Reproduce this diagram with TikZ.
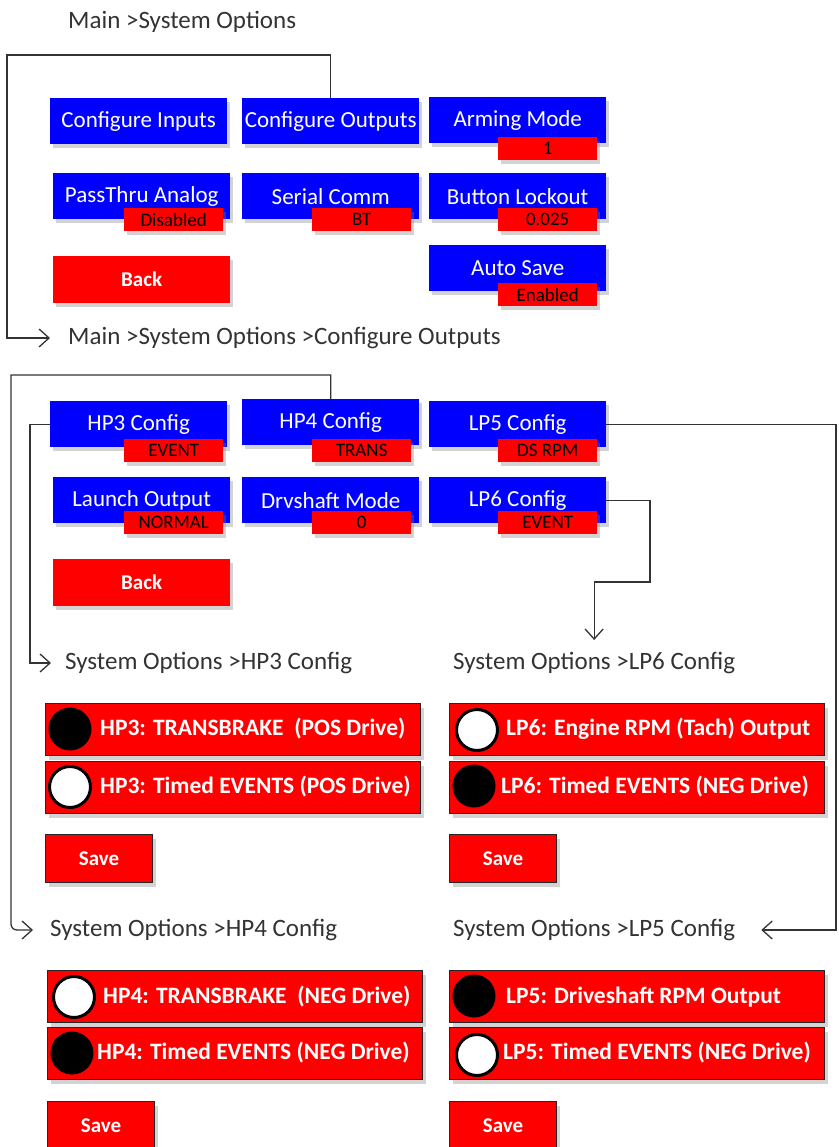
\documentclass[tikz,border=0pt]{standalone}
\usepackage{fontspec}
\setmainfont{Carlito}
\usetikzlibrary{shadows,arrows.meta}
\begin{document}
\begin{tikzpicture}[x=1pt,y=-1pt,
 shd/.style={drop shadow={opacity=0.35,shadow xshift=3pt,shadow yshift=-4pt}},
 bluebox/.style={shd, fill=blue, text=white, anchor=north west, minimum width=177pt, minimum height=46pt, inner sep=1pt, font=\fontsize{23}{25}\selectfont},
 valbox/.style={shd, fill=red, text=black, anchor=north west, minimum width=99pt, minimum height=23pt, inner sep=0pt, font=\fontsize{19}{20}\selectfont},
 backbox/.style={shd, fill=red, text=white, anchor=north west, minimum width=177pt, minimum height=47pt, font=\bfseries\fontsize{21}{24}\selectfont},
 rowbox/.style={shd, fill=red, draw=black!85, line width=1.2pt, anchor=north west, minimum width=375pt, minimum height=52pt, inner sep=0pt},
 savebox/.style={shd, fill=red, draw=black!85, line width=1.2pt, text=white, anchor=north west, minimum width=107pt, minimum height=48pt, font=\bfseries\fontsize{21}{24}\selectfont},
 rowtxt/.style={text=white, anchor=west, inner sep=0pt, font=\bfseries\fontsize{23.5}{26}\selectfont},
 radon/.style={circle, fill=black, minimum size=43pt, inner sep=0pt},
 radoff/.style={circle, fill=white, draw=black, line width=3pt, minimum size=41pt, inner sep=0pt},
 hdr/.style={anchor=west, text=black!80, inner sep=0pt, font=\fontsize{25}{28}\selectfont},
 conn/.style={draw=black!80, line width=1.3pt, -{Straight Barb[length=10pt,width=18pt]}},
]
\useasboundingbox (0,0) rectangle (838,1147);

% headers
\node[hdr] (h1) at (68,22) {Main >System Options};
\node[hdr] (h2) at (68,338) {Main >System Options >Configure Outputs};
\node[hdr] (h3) at (65,663) {System Options >HP3 Config};
\node[hdr] (h4) at (453,663) {System Options >LP6 Config};
\node[hdr] (h5) at (50,930) {System Options >HP4 Config};
\node[hdr] (h6) at (453,930) {System Options >LP5 Config};

% top menu
\node[bluebox] (cfgin) at (50,98) {Configure Inputs};
\node[bluebox] (cfgout) at (242,98) {Configure Outputs};
\node[bluebox] (arm) at (429,97) {Arming Mode};
\node[valbox] (armv) at (498,137) {1};
\node[bluebox] (pass) at (53,173) {PassThru Analog};
\node[valbox] (passv) at (124,208) {Disabled};
\node[bluebox] (serial) at (242,173) {Serial Comm};
\node[valbox] (serialv) at (312,208) {BT};
\node[bluebox] (btn) at (429,173) {Button Lockout};
\node[valbox] (btnv) at (498,208) {0.025};
\node[backbox] (back1) at (53,256) {Back};
\node[bluebox] (auto) at (429,245) {Auto Save};
\node[valbox] (autov) at (498,283) {Enabled};

% outputs menu
\node[bluebox] (hp3) at (50,401) {HP3 Config};
\node[valbox] (hp3v) at (124,439) {EVENT};
\node[bluebox] (hp4) at (242,399) {HP4 Config};
\node[valbox] (hp4v) at (312,439) {TRANS};
\node[bluebox] (lp5) at (429,401) {LP5 Config};
\node[valbox] (lp5v) at (498,439) {DS RPM};
\node[bluebox] (launch) at (53,477) {Launch Output};
\node[valbox] (launchv) at (124,511) {NORMAL};
\node[bluebox] (drv) at (242,477) {Drvshaft Mode};
\node[valbox] (drvv) at (312,511) {0};
\node[bluebox] (lp6) at (429,477) {LP6 Config};
\node[valbox] (lp6v) at (498,511) {EVENT};
\node[backbox] (back2) at (53,559) {Back};

% HP3 config
\node[rowbox] (hp3a) at (45,703) {};
\node[radon] (hp3ac) at (70,729) {};
\node[rowtxt] (hp3at) at (100,729) {HP3: TRANSBRAKE\ \ (POS Drive)};
\node[rowbox] (hp3b) at (45,761) {};
\node[radoff] (hp3bc) at (70,787) {};
\node[rowtxt] (hp3bt) at (100,787) {HP3: Timed EVENTS (POS Drive)};
\node[savebox] (sv1) at (45,834) {Save};

% LP6 config
\node[rowbox] (lp6a) at (449,703) {};
\node[radoff] (lp6ac) at (477,730) {};
\node[rowtxt] (lp6at) at (506,729) {LP6: Engine RPM (Tach) Output};
\node[rowbox] (lp6b) at (449,761) {};
\node[radon] (lp6bc) at (474,786) {};
\node[rowtxt] (lp6bt) at (501,787) {LP6: Timed EVENTS (NEG Drive)};
\node[savebox] (sv2) at (449,834) {Save};

% HP4 config
\node[rowbox] (hp4a) at (47,970) {};
\node[radoff] (hp4ac) at (74,997) {};
\node[rowtxt] (hp4at) at (103,997) {HP4: TRANSBRAKE\ \ (NEG Drive)};
\node[rowbox] (hp4b) at (47,1027) {};
\node[radon] (hp4bc) at (72,1053) {};
\node[rowtxt] (hp4bt) at (97,1053) {HP4: Timed EVENTS (NEG Drive)};
\node[savebox] (sv3) at (47,1101) {Save};

% LP5 config
\node[rowbox] (lp5a) at (449,970) {};
\node[radon] (lp5ac) at (474,996) {};
\node[rowtxt] (lp5at) at (506,997) {LP5: Driveshaft RPM Output};
\node[rowbox] (lp5b) at (449,1027) {};
\node[radoff] (lp5bc) at (477,1055) {};
\node[rowtxt] (lp5bt) at (503,1053) {LP5: Timed EVENTS (NEG Drive)};
\node[savebox] (sv4) at (449,1101) {Save};

% connectors
\draw[conn] (cfgout.north) |- (7,55) |- ([xshift=-18pt]h2.west);
\draw[conn] (hp4.north) |- (11,375) [rounded corners=6pt] |- ([xshift=-17pt]h5.west);
\draw[conn] (hp3.west) -| ([xshift=-35pt]h3.west) -- ([xshift=-14pt]h3.west);
\draw[conn] (lp6.east) -| (650,582) -| ([yshift=12pt]h4.north);
\draw[conn] (lp5.east) -| (836,930) -- ([xshift=26pt]h6.east);
\end{tikzpicture}
\end{document}
